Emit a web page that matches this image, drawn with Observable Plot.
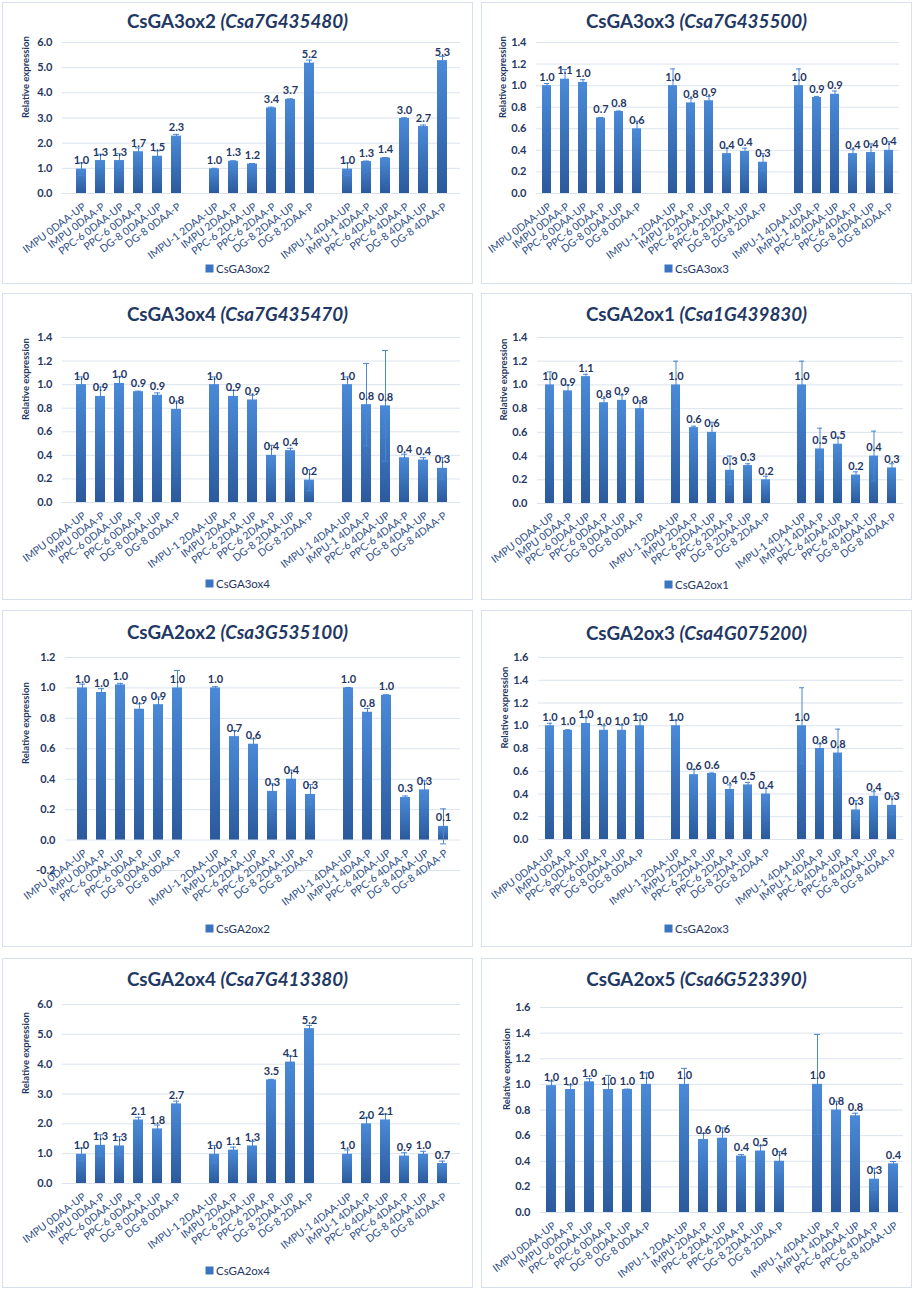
<!DOCTYPE html>
<html><head><meta charset="utf-8">
<script src="https://cdn.jsdelivr.net/npm/d3@7"></script>
<script src="https://cdn.jsdelivr.net/npm/@observablehq/plot@0.6"></script>
<style>
body{margin:0;background:#fff;width:920px;height:1294px;position:relative;font-family:Lato,"Open Sans",sans-serif;overflow:hidden}
.box{position:absolute;border:1.5px solid #d7e0ec;box-sizing:border-box;background:#fff}
.title{position:absolute;transform:translate(-50%,-50%);white-space:nowrap;font-weight:bold;font-size:18.8px;color:#1f3864;font-family:Lato,sans-serif}
.title i{font-style:italic}
.legend{position:absolute;transform:translate(-50%,-50%);white-space:nowrap;font-size:11.5px;color:#1f3864;display:flex;align-items:center;gap:3px;font-family:Lato,sans-serif}
.legend .sw{display:inline-block;width:8px;height:8px;background:#3b74c2}
</style></head><body>
<svg width="0" height="0" style="position:absolute"><defs><linearGradient id="barGrad" x1="0" y1="0" x2="0" y2="1"><stop offset="0" stop-color="#4a8ad8"/><stop offset="1" stop-color="#2b5a9c"/></linearGradient></defs></svg>
<script>
// ---------- data ----------
const categories = ["IMPU 0DAA-UP","IMPU 0DAA-P","PPC-6 0DAA-UP","PPC-6 0DAA-P","DG-8 0DAA-UP","DG-8 0DAA-P",
  "IMPU-1 2DAA-UP","IMPU 2DAA-P","PPC-6 2DAA-UP","PPC-6 2DAA-P","DG-8 2DAA-UP","DG-8 2DAA-P",
  "IMPU-1 4DAA-UP","IMPU-1 4DAA-P","PPC-6 4DAA-UP","PPC-6 4DAA-P","DG-8 4DAA-UP","DG-8 4DAA-P"];
const genes = ["CsGA3ox2","CsGA3ox3","CsGA3ox4","CsGA2ox1","CsGA2ox2","CsGA2ox3","CsGA2ox4","CsGA2ox5"];
const geneIds = ["Csa7G435480","Csa7G435500","Csa7G435470","Csa1G439830","Csa3G535100","Csa4G075200","Csa7G413380","Csa6G523390"];
const yLabel = "Relative expression";

const ga3ox2Values = [0.97,1.31,1.31,1.66,1.48,2.28,0.98,1.28,1.17,3.40,3.74,5.18,0.97,1.27,1.41,2.98,2.66,5.28];
const ga3ox2Errors = [0.25,0.25,0.27,0.15,0.21,0.07,0.02,0.02,0.02,0.03,0.02,0.12,0.25,0.02,0.02,0.03,0.06,0.17];
const ga3ox3Values = [1.00,1.06,1.03,0.70,0.76,0.60,1.00,0.84,0.86,0.37,0.39,0.29,1.00,0.89,0.92,0.37,0.38,0.40];
const ga3ox3Errors = [0.02,0.09,0.025,0.005,0.005,0.07,0.155,0.04,0.04,0.05,0.03,0.08,0.155,0.01,0.03,0.04,0.08,0.08];
const ga3ox4Values = [1.00,0.90,1.01,0.94,0.91,0.79,1.00,0.90,0.87,0.40,0.44,0.19,1.00,0.83,0.82,0.38,0.36,0.29];
const ga3ox4Errors = [0.065,0.08,0.06,0.005,0.02,0.07,0.065,0.05,0.04,0.085,0.02,0.09,0.065,0.35,0.47,0.03,0.02,0.09];
const ga2ox1Values = [1.00,0.95,1.07,0.85,0.87,0.80,1.00,0.64,0.60,0.28,0.32,0.20,1.00,0.46,0.50,0.24,0.40,0.30];
const ga2ox1Errors = [0.11,0.05,0.02,0.035,0.045,0.065,0.2,0.012,0.085,0.12,0.015,0.03,0.2,0.175,0.06,0.027,0.21,0.035];
const ga2ox2Values = [1.00,0.97,1.02,0.86,0.89,1.00,1.00,0.68,0.63,0.32,0.40,0.30,1.00,0.84,0.952,0.28,0.33,0.09];
const ga2ox2Errors = [0.025,0.025,0.01,0.035,0.05,0.115,0.008,0.04,0.035,0.05,0.06,0.065,0.003,0.025,0.003,0.01,0.06,0.115];
const ga2ox3Values = [1.00,0.96,1.02,0.96,0.96,1.00,1.00,0.57,0.58,0.44,0.48,0.40,1.00,0.80,0.76,0.26,0.38,0.30];
const ga2ox3Errors = [0.022,0.005,0.05,0.04,0.045,0.09,0.05,0.045,0.005,0.04,0.022,0.05,0.334,0.04,0.21,0.082,0.04,0.08];
const ga2ox4Values = [0.98,1.28,1.26,2.13,1.83,2.67,0.98,1.12,1.26,3.47,4.07,5.19,0.98,2.00,2.13,0.92,0.98,0.67];
const ga2ox4Errors = [0.21,0.35,0.31,0.09,0.13,0.09,0.29,0.1,0.15,0.02,0.2,0.11,0.145,0.22,0.2,0.11,0.1,0.08];
const ga2ox5Values = [0.99,0.96,1.02,0.96,0.96,1.00,1.00,0.57,0.58,0.44,0.48,0.40,1.00,0.80,0.755,0.26,0.38];
const ga2ox5Errors = [0.035,0.035,0.025,0.11,0.003,0.09,0.125,0.047,0.08,0.012,0.04,0.075,0.39,0.068,0.02,0.085,0.018];

const ticksTo6 = [0,1,2,3,4,5,6];
const ticksTo14 = [0,0.2,0.4,0.6,0.8,1.0,1.2,1.4];
const ticksNeg12 = [-0.2,0,0.2,0.4,0.6,0.8,1.0,1.2];
const ticksTo16 = [0,0.2,0.4,0.6,0.8,1.0,1.2,1.4,1.6];

const values = [ga3ox2Values,ga3ox3Values,ga3ox4Values,ga2ox1Values,ga2ox2Values,ga2ox3Values,ga2ox4Values,ga2ox5Values];
const errors = [ga3ox2Errors,ga3ox3Errors,ga3ox4Errors,ga2ox1Errors,ga2ox2Errors,ga2ox3Errors,ga2ox4Errors,ga2ox5Errors];
const yTicks = [ticksTo6,ticksTo14,ticksTo14,ticksTo14,ticksNeg12,ticksTo16,ticksTo6,ticksTo16];
const showLegend = [true,true,true,true,true,true,true,false];

// ---------- layout ----------
const layout = [
  {left:2,top:2,w:471,h:282,x0:62,x1:460,yT:42,yB:193,yt:25,lg:268,ty:20},
  {left:481,top:2,w:431,h:282,x0:536,x1:899,yT:42,yB:193,yt:502,lg:268,ty:20},
  {left:2,top:293,w:471,h:307,x0:62,x1:460,yT:337,yB:502,yt:25,lg:583,ty:313},
  {left:481,top:293,w:431,h:307,x0:537,x1:903,yT:337,yB:503,yt:503,lg:584,ty:313},
  {left:2,top:610,w:471,h:337,x0:65,x1:460,yT:657,yB:870,yt:25,lg:928,ty:631},
  {left:481,top:610,w:431,h:337,x0:538,x1:903,yT:657,yB:839,yt:504,lg:928,ty:632},
  {left:2,top:958,w:471,h:330,x0:62,x1:460,yT:1004,yB:1183,yt:25,lg:1270,ty:978},
  {left:481,top:958,w:431,h:330,x0:540,x1:903,yT:1007,yB:1212,yt:506,lg:null,ty:978}
];

const navy = "#1f3864";
const errColor = "#4a86d4";

layout.forEach((L, i) => {
  const box = document.createElement("div");
  box.className = "box";
  Object.assign(box.style, {left: L.left + "px", top: L.top + "px", width: L.w + "px", height: L.h + "px"});
  document.body.appendChild(box);

  const vals = values[i], errs = errors[i];
  const cats = categories.slice(0, vals.length);
  const domain = [...cats.slice(0, 6), "\u00a0gap1", ...cats.slice(6, 12), "\u00a0gap2", ...cats.slice(12)];
  const data = cats.map((c, j) => ({c, v: vals[j], e: errs[j]}));
  const ticks = yTicks[i];
  const mt = 12, mb = 90;
  const height = (L.yB - L.yT) + mt + mb;
  const ml = L.x0 - L.left, mr = L.left + L.w - L.x1;

  const svg = Plot.plot({
    width: L.w, height, marginTop: mt, marginBottom: mb, marginLeft: ml, marginRight: mr,
    style: {background: "transparent", overflow: "visible", fontFamily: "Lato, sans-serif"},
    x: {type: "band", domain, paddingInner: 0.5, paddingOuter: 0.25, axis: null},
    y: {domain: [ticks[0], ticks[ticks.length - 1]], axis: null},
    marks: [
      Plot.ruleY(ticks, {stroke: "#dbe3ef", strokeWidth: 1}),
      Plot.barY(data, {x: "c", y: "v", fill: "url(#barGrad)"}),
      Plot.ruleX(data, {x: "c", y1: d => d.v - d.e, y2: d => d.v + d.e, stroke: errColor, strokeWidth: 1}),
      Plot.tickY(data, {x: "c", y: d => d.v + d.e, stroke: errColor, strokeWidth: 1, insetLeft: 2, insetRight: 2}),
      Plot.tickY(data, {x: "c", y: d => d.v - d.e, stroke: errColor, strokeWidth: 1, insetLeft: 2, insetRight: 2}),
      Plot.text(data, {x: "c", y: "v", text: d => d.v.toFixed(1), dy: -5, lineAnchor: "bottom", fontWeight: "bold", fontSize: 11, fill: navy}),
      Plot.text(ticks, {y: d => d, text: d => d.toFixed(1), frameAnchor: "left", textAnchor: "end", dx: -10, fontWeight: "bold", fontSize: 11, fill: navy}),
      Plot.text(cats, {x: d => d, y: () => 0, text: d => d, rotate: -37, textAnchor: "end", lineAnchor: "middle", dx: 3, dy: 12, fontSize: 10.5, fill: "#2f4f86"}),
      Plot.text([yLabel], {frameAnchor: "left", text: d => d, rotate: -90, dx: L.yt - L.x0, fontWeight: "bold", fontSize: 9.5, fill: navy})
    ]
  });
  Object.assign(svg.style, {position: "absolute", left: L.left + "px", top: (L.yT - mt) + "px"});
  document.body.appendChild(svg);

  const t = document.createElement("div");
  t.className = "title";
  t.innerHTML = genes[i] + " <i>(" + geneIds[i] + ")</i>";
  Object.assign(t.style, {left: (L.left + L.w / 2) + "px", top: L.ty + "px"});
  document.body.appendChild(t);

  if (showLegend[i]) {
    const lg = document.createElement("div");
    lg.className = "legend";
    lg.innerHTML = '<span class="sw"></span><span>' + genes[i] + '</span>';
    Object.assign(lg.style, {left: (L.left + L.w / 2) + "px", top: L.lg + "px"});
    document.body.appendChild(lg);
  }
});
</script>
</body></html>
